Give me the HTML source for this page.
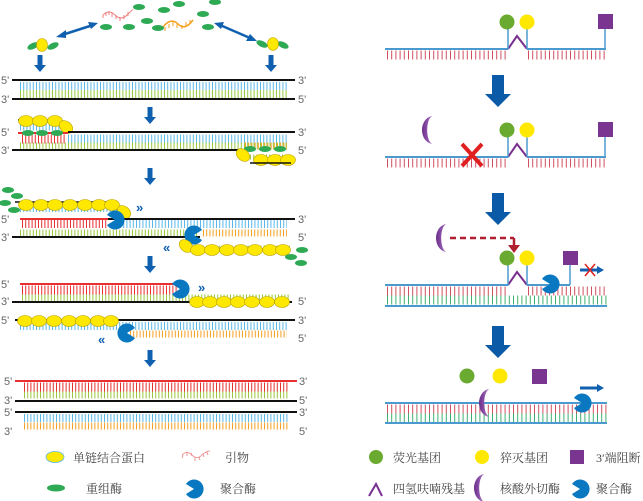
<!DOCTYPE html>
<html><head><meta charset="utf-8"><style>
html,body{margin:0;padding:0;background:#fff;width:643px;height:501px;overflow:hidden}
text{font-family:"Liberation Sans",sans-serif;fill:#666;font-size:11px}
.cj{font-family:"Liberation Serif","Noto Serif CJK SC",serif;fill:#444;font-size:12px}
</style></head><body>
<svg width="643" height="501" viewBox="0 0 643 501" xmlns="http://www.w3.org/2000/svg">
<defs>
<linearGradient id="yr" x1="0" x2="1"><stop offset="0" stop-color="#ffe000"/><stop offset="0.6" stop-color="#f5a020"/><stop offset="1" stop-color="#e83030"/></linearGradient>
<linearGradient id="cr" x1="0" x2="1"><stop offset="0" stop-color="#6a2c8a"/><stop offset="1" stop-color="#b07cc8"/></linearGradient>
<path id="polL" d="M0,0 L-8,-5 A9.5,9.5 0 1,1 -8,5 Z" fill="#0a78c0"/>
<path id="polR" d="M0,0 L8,-5 A9.5,9.5 0 1,0 8,5 Z" fill="#0a78c0"/>
<path id="cres" d="M5,-14 A11,14 0 0,0 5,14 A5,12 0 0,1 5,-14 Z" fill="url(#cr)"/>
<ellipse id="ssb" rx="7.5" ry="5.5" fill="#ffe800" stroke="#b8a000" stroke-width="0.6"/>
<ellipse id="rec" rx="6" ry="3" fill="#2eaa55"/>
<g id="dn"><rect x="-2.5" y="0" width="5" height="11" fill="#1060b0"/><path d="M-6,10 L6,10 L0,17 Z" fill="#1060b0"/></g>
<g id="bdn"><rect x="-6" y="0" width="12" height="20" fill="#0a5aa8"/><path d="M-13,19 L13,19 L0,32 Z" fill="#0a5aa8"/></g>
</defs>

<!-- LEFT TOP -->
<g fill="none" stroke="#f08080" stroke-width="1">
<path d="M103,15 q6,-6 12,0 t12,0 t6,-5"/>
<path d="M103,15 l0,3 M106,12 l0,4 M109,11 l0,4 M112,13 l0,4 M116,15 l0,4 M120,17 l0,4 M124,15 l0,4 M128,12 l0,4"/>
</g>
<path d="M163,27 q8,-10 15,-3 t15,-4" fill="none" stroke="#f5a020" stroke-width="1.5"/>
<path d="M165,27 l0,4 M169,24 l0,4 M173,22 l0,4 M177,24 l0,4 M182,25 l0,4 M186,22 l0,4 M190,20 l0,4" stroke="#f5a020" stroke-width="1"/>
<use href="#rec" x="139" y="7"/><use href="#rec" x="179" y="4"/><use href="#rec" x="215" y="2"/>
<use href="#rec" x="164" y="10"/><use href="#rec" x="203" y="14"/><use href="#rec" x="147" y="21"/>
<use href="#rec" x="106" y="27"/><use href="#rec" x="129" y="27"/><use href="#rec" x="158" y="28"/><use href="#rec" x="208" y="27"/>
<g stroke="#1060b0" stroke-width="2.5">
<line x1="62" y1="35" x2="93" y2="25"/><line x1="220" y1="25" x2="250" y2="38"/></g>
<path d="M56,37 L66,30 L66,38 Z M98,23 L88,22 L91,29 Z M214,23 L224,22 L221,29 Z M257,41 L246,41 L250,34 Z" fill="#1060b0"/>
<use href="#rec" x="33" y="46" transform="rotate(-25 33 46)"/><use href="#rec" x="53" y="46" transform="rotate(-25 53 46)"/>
<ellipse cx="42" cy="45" rx="5.5" ry="6.5" fill="#ffe800" stroke="#b8a000" stroke-width="0.6"/>
<use href="#rec" x="262" y="44" transform="rotate(25 262 44)"/><use href="#rec" x="283" y="45" transform="rotate(25 283 45)"/>
<ellipse cx="273" cy="44" rx="5.5" ry="6.5" fill="#ffe800" stroke="#b8a000" stroke-width="0.6"/>
<use href="#dn" x="40" y="55"/><use href="#dn" x="271" y="55"/>

<!-- Row1 -->
<line x1="12" y1="80" x2="295" y2="80" stroke="#111" stroke-width="2"/>
<line x1="20" y1="86" x2="287" y2="86" stroke="#5ab8e8" stroke-width="8" stroke-dasharray="1 2.2"/>
<line x1="20" y1="94" x2="287" y2="94" stroke="#9ac840" stroke-width="8" stroke-dasharray="1 2.2"/>
<line x1="12" y1="99" x2="295" y2="99" stroke="#111" stroke-width="2"/>
<text x="1" y="84">5'</text><text x="1" y="103">3'</text><text x="298" y="84">3'</text><text x="298" y="103">5'</text>
<use href="#dn" x="150" y="107"/>

<!-- Row2 -->
<line x1="18" y1="120" x2="60" y2="120" stroke="#111" stroke-width="1.5"/>
<line x1="20" y1="127" x2="60" y2="127" stroke="#5ab8e8" stroke-width="7" stroke-dasharray="1 2.2"/>
<use href="#ssb" x="26" y="121"/><use href="#ssb" x="40" y="121"/><use href="#ssb" x="55" y="121"/>
<use href="#ssb" x="66" y="127" transform="rotate(40 66 127)"/>
<line x1="68" y1="132" x2="295" y2="132" stroke="#111" stroke-width="2"/>
<line x1="18" y1="133" x2="68" y2="133" stroke="#e83030" stroke-width="2"/>
<line x1="22" y1="139" x2="66" y2="139" stroke="#e83030" stroke-width="9" stroke-dasharray="1 2.2"/>
<use href="#rec" x="28" y="133"/><use href="#rec" x="42" y="133"/><use href="#rec" x="57" y="133"/>
<line x1="68" y1="139" x2="287" y2="139" stroke="#5ab8e8" stroke-width="9" stroke-dasharray="1 2.2"/>
<line x1="20" y1="146" x2="287" y2="146" stroke="#9ac840" stroke-width="7" stroke-dasharray="1 2.2"/>
<line x1="245" y1="146" x2="287" y2="146" stroke="#f5a020" stroke-width="7" stroke-dasharray="1 2.2"/>
<line x1="12" y1="150" x2="245" y2="150" stroke="#111" stroke-width="2"/>
<line x1="245" y1="150" x2="290" y2="150" stroke="url(#yr)" stroke-width="2"/>
<use href="#rec" x="250" y="149"/><use href="#rec" x="265" y="149"/><use href="#rec" x="280" y="149"/>
<line x1="250" y1="157" x2="288" y2="157" stroke="#9ac840" stroke-width="5" stroke-dasharray="1 2.2"/>
<use href="#ssb" x="243" y="155" transform="rotate(40 243 155)"/><use href="#ssb" x="261" y="160"/><use href="#ssb" x="275" y="160"/><use href="#ssb" x="288" y="160"/>
<line x1="250" y1="163" x2="291" y2="163" stroke="#111" stroke-width="1.5"/>
<text x="1" y="136">5'</text><text x="1" y="154">3'</text><text x="298" y="136">3'</text><text x="298" y="154">5'</text>
<use href="#dn" x="150" y="168"/>

<!-- Row3 -->
<use href="#rec" x="8" y="190"/><use href="#rec" x="17" y="196"/><use href="#rec" x="5" y="203"/><use href="#rec" x="14" y="210"/>
<line x1="15" y1="202" x2="118" y2="202" stroke="#111" stroke-width="1.5"/>
<line x1="20" y1="209" x2="118" y2="209" stroke="#5ab8e8" stroke-width="6" stroke-dasharray="1 2.2"/>
<use href="#ssb" x="26" y="205"/><use href="#ssb" x="41" y="205"/><use href="#ssb" x="55" y="205"/><use href="#ssb" x="70" y="205"/><use href="#ssb" x="85" y="205"/><use href="#ssb" x="99" y="205"/><use href="#ssb" x="112" y="205"/>
<use href="#ssb" x="124" y="212" transform="rotate(40 124 212)"/>
<text x="136" y="212" style="fill:#1060b0;font-size:13px;font-weight:bold">»</text>
<line x1="108" y1="219" x2="295" y2="219" stroke="#111" stroke-width="2"/>
<line x1="20" y1="219" x2="108" y2="219" stroke="#e83030" stroke-width="2"/>
<line x1="22" y1="224" x2="108" y2="224" stroke="#e83030" stroke-width="8" stroke-dasharray="1 2.2"/>
<line x1="120" y1="224" x2="287" y2="224" stroke="#5ab8e8" stroke-width="8" stroke-dasharray="1 2.2"/>
<line x1="20" y1="233" x2="198" y2="233" stroke="#9ac840" stroke-width="7" stroke-dasharray="1 2.2"/>
<line x1="203" y1="233" x2="287" y2="233" stroke="#f5a020" stroke-width="7" stroke-dasharray="1 2.2"/>
<line x1="12" y1="237" x2="200" y2="237" stroke="#111" stroke-width="2"/>
<line x1="200" y1="237" x2="290" y2="237" stroke="url(#yr)" stroke-width="2"/>
<use href="#polL" x="115" y="220"/><use href="#polR" x="194" y="235"/>
<text x="163" y="252" style="fill:#1060b0;font-size:13px;font-weight:bold">«</text>
<line x1="190" y1="248" x2="290" y2="248" stroke="#9ac840" stroke-width="5" stroke-dasharray="1 2.2"/>
<use href="#ssb" x="186" y="246" transform="rotate(40 186 246)"/>
<use href="#ssb" x="198" y="250"/><use href="#ssb" x="212" y="250"/><use href="#ssb" x="227" y="250"/><use href="#ssb" x="241" y="250"/><use href="#ssb" x="255" y="250"/><use href="#ssb" x="270" y="250"/><use href="#ssb" x="283" y="250"/>
<use href="#rec" x="302" y="250"/><use href="#rec" x="291" y="257"/><use href="#rec" x="301" y="263"/>
<text x="1" y="223">5'</text><text x="1" y="241">3'</text><text x="298" y="223">3'</text><text x="298" y="241">5'</text>
<use href="#dn" x="150" y="256"/>

<!-- Row4 -->
<line x1="20" y1="284" x2="177" y2="284" stroke="#e83030" stroke-width="2"/>
<line x1="22" y1="290" x2="177" y2="290" stroke="#e83030" stroke-width="9" stroke-dasharray="1 2.2"/>
<line x1="22" y1="298" x2="290" y2="298" stroke="#9ac840" stroke-width="7" stroke-dasharray="1 2.2"/>
<line x1="12" y1="302" x2="292" y2="302" stroke="#111" stroke-width="2"/>
<use href="#ssb" x="197" y="302"/><use href="#ssb" x="210" y="302"/><use href="#ssb" x="224" y="302"/><use href="#ssb" x="238" y="302"/><use href="#ssb" x="252" y="302"/><use href="#ssb" x="267" y="302"/><use href="#ssb" x="282" y="302"/>
<use href="#polL" x="180" y="289"/>
<text x="198" y="292" style="fill:#1060b0;font-size:13px;font-weight:bold">»</text>
<text x="1" y="288">5'</text><text x="1" y="305">3'</text><text x="298" y="305">5'</text>

<!-- Row5 -->
<line x1="15" y1="320" x2="295" y2="320" stroke="#111" stroke-width="2"/>
<line x1="20" y1="326" x2="287" y2="326" stroke="#5ab8e8" stroke-width="8" stroke-dasharray="1 2.2"/>
<line x1="130" y1="334" x2="287" y2="334" stroke="#f5a020" stroke-width="7" stroke-dasharray="1 2.2"/>
<line x1="130" y1="338" x2="290" y2="338" stroke="url(#yr)" stroke-width="2"/>
<use href="#ssb" x="25" y="321"/><use href="#ssb" x="39" y="321"/><use href="#ssb" x="54" y="321"/><use href="#ssb" x="69" y="321"/><use href="#ssb" x="83" y="321"/><use href="#ssb" x="98" y="321"/><use href="#ssb" x="111" y="321"/>
<use href="#polR" x="127" y="333"/>
<text x="98" y="344" style="fill:#1060b0;font-size:13px;font-weight:bold">«</text>
<text x="1" y="324">5'</text><text x="298" y="324">3'</text><text x="298" y="342">5'</text>
<use href="#dn" x="150" y="350"/>

<!-- Row6 -->
<line x1="15" y1="381" x2="297" y2="381" stroke="#e83030" stroke-width="2"/>
<line x1="24" y1="387" x2="289" y2="387" stroke="#e83030" stroke-width="9" stroke-dasharray="1 2.2"/>
<line x1="24" y1="395" x2="289" y2="395" stroke="#9ac840" stroke-width="7" stroke-dasharray="1 2.2"/>
<line x1="15" y1="401" x2="297" y2="401" stroke="#111" stroke-width="2"/>
<line x1="15" y1="412" x2="297" y2="412" stroke="#111" stroke-width="2"/>
<line x1="24" y1="418" x2="289" y2="418" stroke="#5ab8e8" stroke-width="8" stroke-dasharray="1 2.2"/>
<line x1="24" y1="426" x2="289" y2="426" stroke="#f5a020" stroke-width="7" stroke-dasharray="1 2.2"/>
<line x1="15" y1="431" x2="297" y2="431" stroke="url(#yr)" stroke-width="2"/>
<text x="4" y="385">5'</text><text x="4" y="404">3'</text><text x="4" y="416">5'</text><text x="4" y="435">3'</text>
<text x="299" y="385">3'</text><text x="299" y="404">5'</text><text x="299" y="416">3'</text><text x="299" y="435">5'</text>

<!-- left legend -->
<ellipse cx="55" cy="457" rx="9" ry="5.5" fill="#ffe800" stroke="#5ab8e8" stroke-width="0.8"/>
<text class="cj" x="73" y="462">单链结合蛋白</text>
<path d="M182,455 q5,-5 10,0 q5,5 10,0 q4,-4 8,-4" fill="none" stroke="#f08080" stroke-width="0.8"/>
<path d="M183,455 l-1,3 M187,452 l0,4 M191,453 l1,3 M195,457 l0,4 M199,457 l1,3 M203,454 l1,3 M207,452 l1,3" stroke="#f08080" stroke-width="0.8"/>
<text class="cj" x="225" y="462">引物</text>
<ellipse cx="56" cy="488" rx="9" ry="3.5" fill="#2eaa55"/>
<text class="cj" x="86" y="493">重组酶</text>
<use href="#polL" x="194" y="489"/>
<text class="cj" x="220" y="493">聚合酶</text>

<!-- RIGHT -->
<g id="probe">
<line x1="385" y1="49" x2="508" y2="49" stroke="#4a9ad0" stroke-width="2"/>
<line x1="527" y1="49" x2="606" y2="49" stroke="#4a9ad0" stroke-width="2"/>
<line x1="387" y1="55" x2="508" y2="55" stroke="#d05060" stroke-width="9" stroke-dasharray="1 3.2"/>
<line x1="528" y1="55" x2="606" y2="55" stroke="#d05060" stroke-width="9" stroke-dasharray="1 3.2"/>
<path d="M508,49 L517,36 L527,49" fill="none" stroke="#7a3090" stroke-width="2"/>
<line x1="508" y1="28" x2="508" y2="49" stroke="#4a9ad0" stroke-width="1.5"/>
<line x1="527" y1="28" x2="527" y2="49" stroke="#4a9ad0" stroke-width="1.5"/>
<line x1="605" y1="29" x2="605" y2="49" stroke="#4a9ad0" stroke-width="1.5"/>
<circle cx="507" cy="22" r="7.5" fill="#6aaa30"/><circle cx="527" cy="22" r="7.5" fill="#ffe800"/>
<rect x="598" y="14" width="15" height="15" fill="#7a3590"/>
</g>
<use href="#bdn" x="498" y="75"/>
<use href="#probe" y="108"/>
<use href="#cres" x="428" y="130"/>
<path d="M462,144 L482,166 M482,144 L462,166" stroke="#e02020" stroke-width="4"/>
<use href="#bdn" x="498" y="193"/>

<!-- Row3 right -->
<use href="#cres" x="442" y="238"/>
<line x1="450" y1="238" x2="514" y2="238" stroke="#b02030" stroke-width="2.5" stroke-dasharray="6 4"/>
<line x1="514" y1="238" x2="514" y2="247" stroke="#b02030" stroke-width="2.5"/>
<path d="M508,245 L520,245 L514,253 Z" fill="#b02030"/>
<line x1="385" y1="285" x2="508" y2="285" stroke="#4a9ad0" stroke-width="2"/>
<line x1="527" y1="285" x2="570" y2="285" stroke="#4a9ad0" stroke-width="2"/>
<path d="M508,285 L517,272 L527,285" fill="none" stroke="#7a3090" stroke-width="2"/>
<line x1="508" y1="264" x2="508" y2="285" stroke="#4a9ad0" stroke-width="1.5"/>
<line x1="527" y1="264" x2="527" y2="285" stroke="#4a9ad0" stroke-width="1.5"/>
<line x1="570" y1="265" x2="570" y2="285" stroke="#4a9ad0" stroke-width="1.5"/>
<circle cx="507" cy="258" r="7.5" fill="#6aaa30"/><circle cx="527" cy="258" r="7.5" fill="#ffe800"/>
<rect x="563" y="251" width="15" height="14" fill="#7a3590"/>
<line x1="387" y1="291" x2="508" y2="291" stroke="#d05060" stroke-width="9" stroke-dasharray="1 3.2"/>
<line x1="528" y1="291" x2="607" y2="291" stroke="#d05060" stroke-width="9" stroke-dasharray="1 3.2"/>
<line x1="387" y1="300" x2="607" y2="300" stroke="#40b070" stroke-width="9" stroke-dasharray="1 3.2"/>
<line x1="385" y1="306" x2="607" y2="306" stroke="#4a9ad0" stroke-width="2"/>
<use href="#polL" x="550" y="284"/>
<line x1="580" y1="270" x2="598" y2="270" stroke="#1060b0" stroke-width="3"/>
<path d="M597,266 L604,270 L597,274 Z" fill="#1060b0"/>
<path d="M585,264 L595,276 M595,264 L585,276" stroke="#e02020" stroke-width="1.5"/>
<use href="#bdn" x="498" y="326"/>

<!-- Row4 right -->
<circle cx="467" cy="376" r="7.5" fill="#6aaa30"/><circle cx="500" cy="376" r="7.5" fill="#ffe800"/>
<rect x="532" y="369" width="15" height="15" fill="#7a3590"/>
<line x1="385" y1="403" x2="607" y2="403" stroke="#4a9ad0" stroke-width="2"/>
<line x1="387" y1="409" x2="607" y2="409" stroke="#d05060" stroke-width="9" stroke-dasharray="1 3.2"/>
<line x1="387" y1="418" x2="607" y2="418" stroke="#40b070" stroke-width="9" stroke-dasharray="1 3.2"/>
<line x1="385" y1="423" x2="607" y2="423" stroke="#4a9ad0" stroke-width="2"/>
<use href="#cres" x="485" y="403"/>
<use href="#polL" x="582" y="403"/>
<line x1="580" y1="388" x2="598" y2="388" stroke="#1060b0" stroke-width="3"/>
<path d="M597,384 L604,388 L597,392 Z" fill="#1060b0"/>

<!-- right legend -->
<circle cx="376" cy="457" r="7" fill="#6aaa30"/>
<text class="cj" x="393" y="462">荧光基团</text>
<circle cx="482" cy="457" r="7" fill="#ffe800"/>
<text class="cj" x="500" y="462">猝灭基团</text>
<rect x="570" y="450" width="14" height="14" fill="#7a3590"/>
<text class="cj" x="596" y="462">3′端阻断</text>
<path d="M369,496 L376,484 L382,496" fill="none" stroke="#7a3090" stroke-width="2"/>
<text class="cj" x="393" y="493">四氢呋喃残基</text>
<use href="#cres" x="480" y="488"/>
<text class="cj" x="500" y="493">核酸外切酶</text>
<use href="#polL" x="580" y="489"/>
<text class="cj" x="596" y="493">聚合酶</text>
</svg>
</body></html>
